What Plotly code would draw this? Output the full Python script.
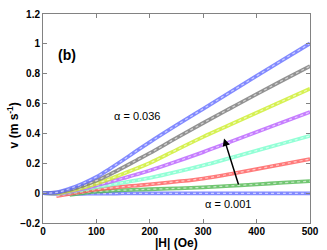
import plotly.graph_objects as go

H = [0, 25, 50, 75, 100, 125, 150, 175, 200, 250, 300, 350, 400, 450, 500]

v_a036 = [0.0, 0.005, 0.03, 0.065, 0.108, 0.163, 0.222, 0.283, 0.342, 0.455, 0.565, 0.675, 0.785, 0.895, 1.003]
v_gray = [0.0, 0.003, 0.022, 0.05, 0.084, 0.125, 0.172, 0.22, 0.268, 0.37, 0.47, 0.567, 0.663, 0.758, 0.851]
v_yellow = [0.0, 0.0, 0.015, 0.037, 0.064, 0.095, 0.13, 0.165, 0.202, 0.29, 0.377, 0.458, 0.539, 0.619, 0.699]
v_purple = [0.0, -0.002, 0.01, 0.03, 0.052, 0.075, 0.1, 0.125, 0.152, 0.212, 0.275, 0.342, 0.409, 0.476, 0.543]
v_cyan = [0.0, -0.003, 0.008, 0.024, 0.04, 0.055, 0.07, 0.085, 0.102, 0.142, 0.186, 0.235, 0.285, 0.334, 0.384]
v_red = [None, -0.02, -0.005, 0.01, 0.024, 0.034, 0.043, 0.051, 0.059, 0.077, 0.098, 0.128, 0.161, 0.195, 0.228]
v_green = [None, None, -0.012, 0.0, 0.01, 0.016, 0.02, 0.023, 0.026, 0.032, 0.039, 0.049, 0.059, 0.07, 0.08]
v_a001 = [0.0, -0.005, -0.005, -0.004, -0.003, -0.003, -0.002, -0.002, -0.002, -0.002, -0.002, -0.001, -0.001, -0.001, -0.001]

series = [
    (v_a001, "rgb(100,110,255)"),
    (v_green, "rgb(80,185,80)"),
    (v_red, "rgb(255,90,90)"),
    (v_cyan, "rgb(120,255,205)"),
    (v_purple, "rgb(185,95,255)"),
    (v_yellow, "rgb(205,238,40)"),
    (v_gray, "rgb(120,120,120)"),
    (v_a036, "rgb(100,110,255)"),
]

fig = go.Figure()
for vals, col in series:
    xs = [h for h, v in zip(H, vals) if v is not None]
    ys = [v for v in vals if v is not None]
    fig.add_trace(go.Scatter(x=xs, y=ys, mode="lines", line=dict(color=col, width=3.8, shape="spline", smoothing=1.0),
                             opacity=0.8, showlegend=False, hoverinfo="skip"))
    fig.add_trace(go.Scatter(x=xs, y=ys, mode="lines",
                             line=dict(color="rgba(255,255,255,0.6)", width=1.2, dash="dot", shape="spline", smoothing=1.0),
                             showlegend=False, hoverinfo="skip"))

font = "Liberation Sans, Arial, sans-serif"
fig.add_annotation(x=45, y=0.927, text="<b>(b)</b>", showarrow=False, font=dict(family=font, size=14, color="black"))
fig.add_annotation(x=176, y=0.517, text="α = 0.036", showarrow=False, font=dict(family=font, size=11, color="black"))
fig.add_annotation(x=347, y=-0.072, text="α = 0.001", showarrow=False, font=dict(family=font, size=11, color="black"))
fig.add_annotation(x=339, y=0.366, ax=367, ay=0.048, xref="x", yref="y", axref="x", ayref="y",
                   text="", showarrow=True, arrowhead=2, arrowsize=1, arrowwidth=1.5, arrowcolor="black")

# axis titles
fig.add_annotation(x=0.5, y=-0.098, xref="paper", yref="paper", text="<b>|H| (Oe)</b>", showarrow=False,
                   xanchor="center", yanchor="middle", font=dict(family=font, size=12, color="black"))
fig.add_annotation(x=-0.114, y=0.465, xref="paper", yref="paper", text="<b>v (m s<sup>-1</sup>)</b>", showarrow=False,
                   textangle=-90, xanchor="center", yanchor="middle", font=dict(family=font, size=12, color="black"))

axis_common = dict(showline=True, linecolor="rgb(130,130,130)", linewidth=1, mirror="ticks",
                   ticks="inside", ticklen=4, tickcolor="rgb(130,130,130)", showgrid=False, zeroline=False,
                   tickfont=dict(family=font, size=10, color="black"))

fig.update_xaxes(range=[0, 500], dtick=100, tick0=0, tickprefix="<b>", ticksuffix="</b>",
                 ticklabelstandoff=-1, **axis_common)
fig.update_yaxes(range=[-0.2, 1.2], dtick=0.2, tick0=0, tickprefix="<b>", ticksuffix="</b>",
                 **axis_common)

fig.update_layout(width=327, height=250, margin=dict(l=43, r=11, t=8, b=27),
                  plot_bgcolor="white", paper_bgcolor="white")

fig.write_html("out.html", config={"displayModeBar": False},
               post_script="document.body.style.margin='0';document.body.style.padding='0';")
